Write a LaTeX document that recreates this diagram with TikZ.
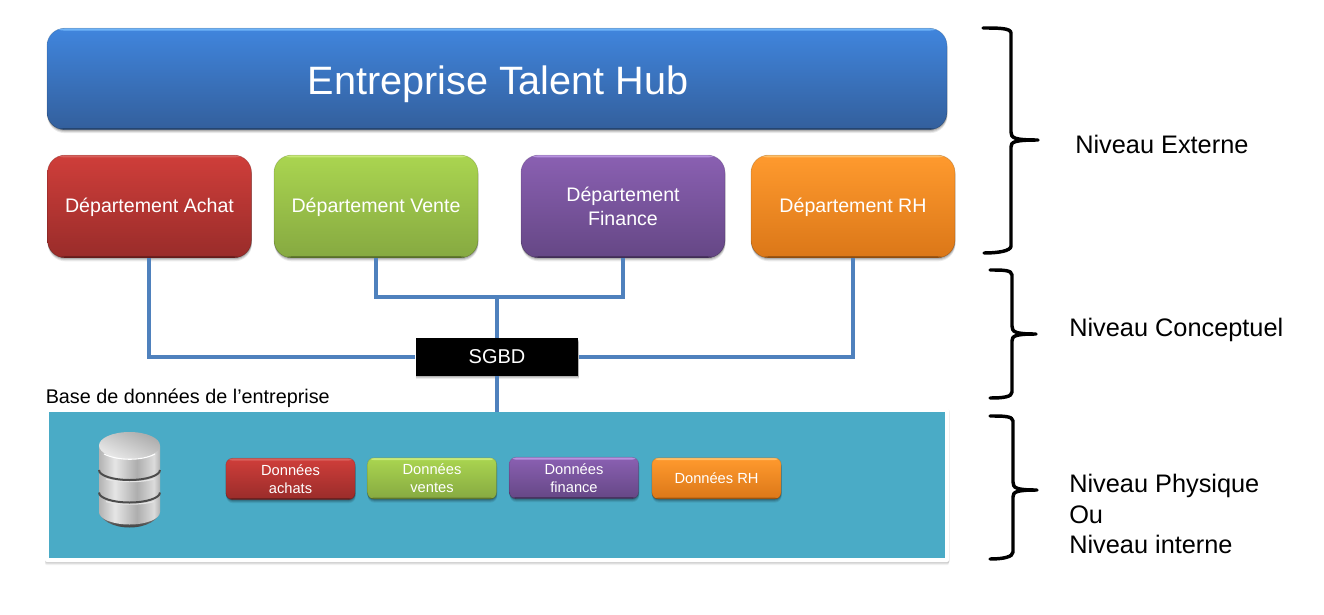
\documentclass[tikz,border=0pt]{standalone}
\usepackage{fontspec}
\setmainfont{Liberation Sans}
\usetikzlibrary{shadows,calc}
\definecolor{linkblue}{HTML}{4F81BD}
\definecolor{basefill}{HTML}{4AABC6}
\definecolor{redT}{HTML}{CF3E3A}\definecolor{redB}{HTML}{992C2A}\definecolor{redH}{HTML}{D8605C}
\definecolor{greenT}{HTML}{AAD550}\definecolor{greenB}{HTML}{86A941}\definecolor{greenH}{HTML}{C8EA78}
\definecolor{purpleT}{HTML}{8A60B2}\definecolor{purpleB}{HTML}{654785}\definecolor{purpleH}{HTML}{B893E0}
\definecolor{orangeT}{HTML}{FF9A2E}\definecolor{orangeB}{HTML}{DB7718}\definecolor{orangeH}{HTML}{FFBE66}
\definecolor{blueT}{HTML}{4085DD}\definecolor{blueB}{HTML}{335F9C}\definecolor{blueH}{HTML}{6FB4F8}
\definecolor{dbA}{gray}{.70}\definecolor{dbB}{gray}{.90}\definecolor{dbC}{gray}{.68}\definecolor{dbD}{gray}{.86}
\pgfdeclarehorizontalshading{dbbody}{100bp}{color(0bp)=(dbA); color(25bp)=(dbA); color(38bp)=(dbB); color(56bp)=(dbC); color(70bp)=(dbD); color(75bp)=(dbA); color(100bp)=(dbA)}
\tikzset{
  softshadow/.style={
    drop shadow={shadow xshift=0.3pt,shadow yshift=-2.6pt,opacity=.08,fill=black},
    drop shadow={shadow xshift=0.3pt,shadow yshift=-1.8pt,opacity=.11,fill=black},
    drop shadow={shadow xshift=0.2pt,shadow yshift=-1pt,opacity=.14,fill=black}},
  paleshadow/.style={
    drop shadow={shadow xshift=0pt,shadow yshift=-2.4pt,opacity=.05,fill=black},
    drop shadow={shadow xshift=0pt,shadow yshift=-1.6pt,opacity=.07,fill=black},
    drop shadow={shadow xshift=0.4pt,shadow yshift=-.8pt,opacity=.09,fill=black}},
  bevel/.style={path picture={
    \fill[#1] (path picture bounding box.north west) rectangle ([yshift=-1.7pt]path picture bounding box.north east);
    \fill[black,opacity=.28] ([yshift=1.2pt]path picture bounding box.south west) rectangle (path picture bounding box.south east);}},
  box/.style={rectangle,rounded corners=#1,softshadow,text=white,align=center,inner sep=0pt,line width=.6pt,draw=black,draw opacity=.14},
  redbox/.style={top color=redT,bottom color=redB,bevel=redH},
  greenbox/.style={top color=greenT,bottom color=greenB,bevel=greenH},
  purplebox/.style={top color=purpleT,bottom color=purpleB,bevel=purpleH},
  orangebox/.style={top color=orangeT,bottom color=orangeB,bevel=orangeH},
  bluebox/.style={top color=blueT,bottom color=blueB,bevel=blueH},
  dept/.style={box=13pt,minimum width=153pt,minimum height=77pt,font=\fontsize{14.7}{18}\selectfont},
  datab/.style={box=5pt,minimum width=97pt,minimum height=31pt,font=\fontsize{11}{13.5}\selectfont},
  link/.style={draw=linkblue,line width=3pt},
  level/.style={font=\fontsize{19}{23}\selectfont,anchor=west,align=left,inner sep=0pt},
  bracket/.style={draw=black,line width=2.6pt,line cap=round,line join=round},
}
\newcommand{\onbase}[2]{\raisebox{-#1}[0pt][0pt]{#2}}
\begin{document}
\begin{tikzpicture}[x=0.75pt,y=-0.75pt]
\path[use as bounding box] (0,0) rectangle (1324,614);
\node[box=13pt,bluebox,minimum width=675pt,minimum height=76pt,
  font=\fontsize{29.7}{36}\selectfont] (hub) at (497,79) {\hspace*{1.5pt}\onbase{11.25pt}{Entreprise Talent Hub}};
\node[dept,redbox] (achat) at (149.5,206.5) {\onbase{4.6pt}{Département Achat}};
\node[dept,greenbox] (vente) at (376,206.5) {\onbase{4.6pt}{Département Vente}};
\node[dept,purplebox] (finance) at (623,206.5) {Département\\Finance};
\node[dept,orangebox] (rh) at (853,206.5) {\onbase{4.6pt}{Département RH}};
\node[rectangle,fill=black,text=white,softshadow,minimum width=122pt,minimum height=28pt,inner sep=0pt,
  font=\fontsize{15}{18}\selectfont] (sgbd) at (497,357) {SGBD};
\node[anchor=west,inner sep=0pt,font=\fontsize{14.85}{17}\selectfont] (baselabel) at (45.5,398) {Base de données de l’entreprise};
\node[rectangle,fill=white,paleshadow,rounded corners=1.5pt,minimum width=678pt,minimum height=115.5pt,inner sep=0pt] (baseouter) at (497,485) {};
\node[rectangle,fill=basefill,minimum width=672pt,minimum height=109.5pt,inner sep=0pt] (base) at (497,485) {};
\coordinate (junction) at (497,297);
\draw[link] ([xshift=-.6pt]achat.south) |- (sgbd.west);
\draw[link] (vente.south) |- (junction) -| (finance.south);
\draw[link] (junction) -- (sgbd.north);
\draw[link] (rh.south) |- (sgbd.east);
\draw[link] (sgbd.south) -- (base.north);
\node[datab,redbox] (d1) at (290.5,479) {Données\\achats};
\node[datab,greenbox] (d2) at (432,478.5) {Données\\ventes};
\node[datab,purplebox] (d3) at (574,478) {Données\\finance};
\node[datab,orangebox] (d4) at (716.5,478.5) {Données RH};
% database icon
\shade[top color=black!35,bottom color=black!75] (99,510) arc[start angle=180,end angle=0,x radius=30.5,y radius=17.5] -- (160,510) -- cycle;
\shade[shading=dbbody] (99,446) -- (99,512) arc[start angle=180,end angle=0,x radius=30.5,y radius=12.5] -- (160,446) -- cycle;
\foreach \yy in {470,492.5}{
  \draw[white!90!black,line width=.9pt] (106,\yy+9) .. controls (118,\yy+12.5) and (142,\yy+12.5) .. (154,\yy+9);
  \draw[black!70,line width=1.5pt] (99,\yy) arc[start angle=180,end angle=0,x radius=30.5,y radius=10];
}
\shade[top color=black!33,bottom color=black!8,shading angle=-25] (99,445.5) arc[start angle=180,end angle=-180,x radius=30.5,y radius=13.5];
\draw[white,line width=.8pt] (104,454) .. controls (118,461) and (142,461) .. (155,454);
% brackets
\draw[bracket] (983,28) .. controls (998,28) and (1011,28) .. (1011,33) -- (1011,132) .. controls (1011,138) and (1014,140) .. (1038,140)
  (1038,140) .. controls (1014,140) and (1011,142) .. (1011,147) -- (1011,246) .. controls (1011,251) and (998,253) .. (984,253);
\draw[bracket] (990,270) .. controls (1003,270) and (1012,270) .. (1012,275) -- (1012,326) .. controls (1012,332) and (1015,334) .. (1036,334)
  (1036,334) .. controls (1015,334) and (1012,336) .. (1012,341) -- (1012,392) .. controls (1012,397) and (1003,398) .. (990,398);
\draw[bracket] (990,416) .. controls (1003,416) and (1013,416) .. (1013,421) -- (1013,482) .. controls (1013,488) and (1016,490) .. (1037,490)
  (1037,490) .. controls (1016,490) and (1013,492) .. (1013,497) -- (1013,552) .. controls (1013,557) and (1003,559) .. (990,559);
\node[level] (n1) at (1075,144) {Niveau Externe};
\node[level] (n2) at (1069,330) {Niveau Conceptuel};
\node[level] (n3) at (1069,514) {Niveau Physique\\Ou\\Niveau interne};
\end{tikzpicture}
\end{document}
